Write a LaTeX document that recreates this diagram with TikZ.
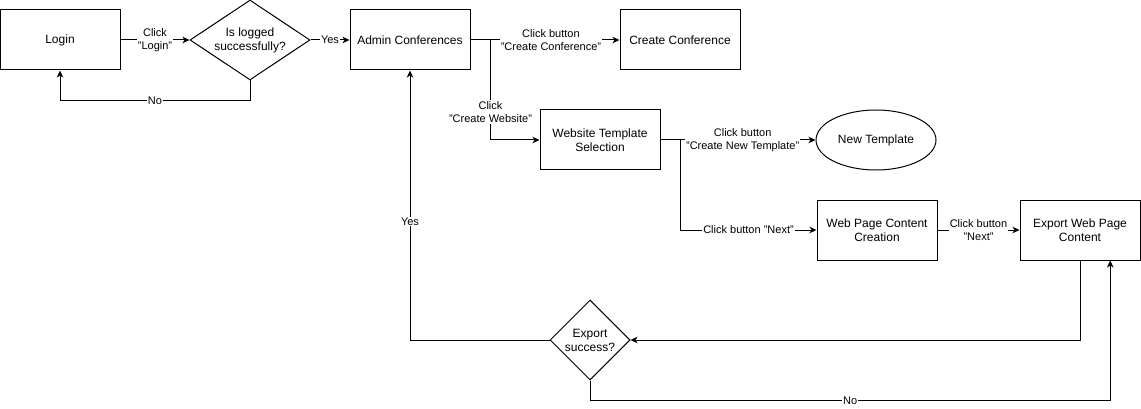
\documentclass[tikz,border=0pt]{standalone}
\usepackage{fontspec}
\setmainfont{Liberation Sans}
\usetikzlibrary{shapes.geometric,arrows.meta,calc}
\begin{document}
\begin{tikzpicture}[x=1pt,y=-1pt,
  every node/.style={font=\fontsize{12}{14}\selectfont, align=center},
  box/.style={draw, line width=1pt, rectangle, minimum width=120pt, minimum height=60pt, inner sep=0pt},
  dec/.style={draw, line width=1pt, diamond, aspect=1.5, minimum width=120pt, minimum height=80pt, inner sep=0pt},
  dec2/.style={draw, line width=1pt, diamond, aspect=1, minimum width=80pt, minimum height=80pt, inner sep=0pt},
  oval/.style={draw, line width=1pt, ellipse, minimum width=120pt, minimum height=60pt, inner sep=0pt},
  arr/.style={line width=1pt, -{Stealth[length=7pt,width=6.5pt,inset=2pt]}},
  lbl/.style={fill=white, inner sep=1pt, font=\fontsize{11}{13}\selectfont}]
\useasboundingbox (0,0) rectangle (1141,409);
\node[box] (login) at (60,40) {Login};
\node[dec] (d1) at (250,40) {Is logged\\successfully?};
\node[box] (admin) at (410,40) {Admin Conferences};
\node[box] (cc) at (680,40) {Create Conference};
\node[box] (wts) at (600,140) {Website Template\\Selection};
\node[oval] (nt) at (876,140) {New Template};
\node[box] (wpc) at (877,230) {Web Page Content\\Creation};
\node[box] (exp) at (1080,230) {Export Web Page\\Content};
\node[dec2] (d2) at (590,340) {Export\\success?};
\coordinate (expin) at ($(exp.south)!0.5!(exp.south east)$);

\draw[arr] (login) -- node[lbl]{Click\\"Login"} (d1);
\draw[arr] (d1) -- node[lbl]{Yes} (admin);
\draw[arr] (d1.south) -- ++(0,20) -| node[lbl,pos=0.25]{No} (login.south);
\draw[arr] (admin) -- node[lbl,pos=0.54]{Click button\\"Create Conference"} (cc);
\draw[arr] (admin.east) -- ++(20,0) |- node[lbl,pos=0.36]{Click\\"Create Website"} (wts.west);
\draw[arr] (wts) -- node[lbl,pos=0.53]{Click button\\"Create New Template"} (nt);
\draw[arr] (wts.east) -- ++(20,0) |- node[lbl,pos=0.75]{Click button "Next"} (wpc.west);
\draw[arr] (wpc) -- node[lbl]{Click button\\"Next"} (exp);
\draw[arr] (exp.south) |- (d2.east);
\draw[arr] (d2.south) -- ++(0,20) -| node[lbl,pos=0.25]{No} (expin);
\draw[arr] (d2.west) -| node[lbl,pos=0.72]{Yes} (admin.south);
\end{tikzpicture}
\end{document}
